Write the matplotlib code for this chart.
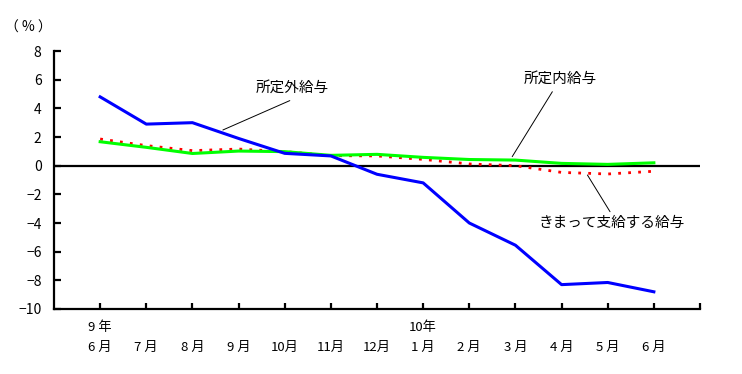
import matplotlib.pyplot as plt

plt.rcParams['font.family'] = ['Noto Sans CJK JP', 'DejaVu Sans']

months = ['6 月', '7 月', '8 月', '9 月', '10月', '11月', '12月',
          '1 月', '2 月', '3 月', '4 月', '5 月', '6 月']
years = {0: '9 年', 7: '10年'}

shoteigai = [4.8, 2.9, 3.0, 1.9, 0.86, 0.68, -0.6, -1.2, -4.0, -5.55, -8.3, -8.15, -8.8]
shoteinai = [1.67, 1.28, 0.85, 1.02, 0.98, 0.72, 0.79, 0.58, 0.43, 0.39, 0.16, 0.09, 0.2]
kimatte = [1.86, 1.4, 1.05, 1.16, 0.98, 0.7, 0.68, 0.44, 0.12, 0.0, -0.47, -0.58, -0.39]

x = list(range(1, len(months) + 1))

fig = plt.figure(figsize=(7.42, 3.74), dpi=100)
ax = fig.add_axes([0.0728, 0.1738, 0.8706, 0.6898])

ax.axhline(0, color='black', lw=1.6, zorder=1)
ax.plot(x, kimatte, color='#ff0000', lw=2.0, ls=(0, (1, 2.6)), zorder=2)
ax.plot(x, shoteinai, color='#00ff00', lw=2.2, zorder=3)
ax.plot(x, shoteigai, color='#0000ff', lw=2.2, zorder=4)

ax.set_xlim(0, 14)
ax.set_ylim(-10, 8)
ax.set_yticks(range(-10, 9, 2))
ax.set_xticks(list(range(1, 15)))
ax.set_xticklabels(months + [''])
ax.tick_params(axis='x', direction='in', length=4, width=1.6, pad=23, labelsize=9.5)
ax.tick_params(axis='y', direction='in', length=5, width=1.6, pad=9, labelsize=10)
for s in ['top', 'right']:
    ax.spines[s].set_visible(False)
for s in ['left', 'bottom']:
    ax.spines[s].set_linewidth(1.6)

for i, yr in years.items():
    ax.text(x[i], -0.07, yr, transform=ax.get_xaxis_transform(),
            ha='center', va='center', fontsize=9.5)

fig.text(0.0377, 0.9265, '（ % ）', ha='center', va='center', fontsize=10)

ann = dict(arrowstyle='-', color='black', lw=0.7, shrinkA=0, shrinkB=0)
ax.annotate('', xy=(3.66, 2.49), xytext=(5.11, 4.54), arrowprops=ann)
ax.text(5.16, 5.42, '所定外給与', ha='center', va='center', fontsize=10.5)
ax.annotate('', xy=(9.93, 0.63), xytext=(10.80, 5.16), arrowprops=ann)
ax.text(10.97, 6.05, '所定内給与', ha='center', va='center', fontsize=10.5)
ax.annotate('', xy=(11.56, -0.65), xytext=(12.05, -3.21), arrowprops=ann)
ax.text(12.09, -4.0, 'きまって支給する給与', ha='center', va='center', fontsize=10.5)

fig.savefig('out.png', dpi=100)
